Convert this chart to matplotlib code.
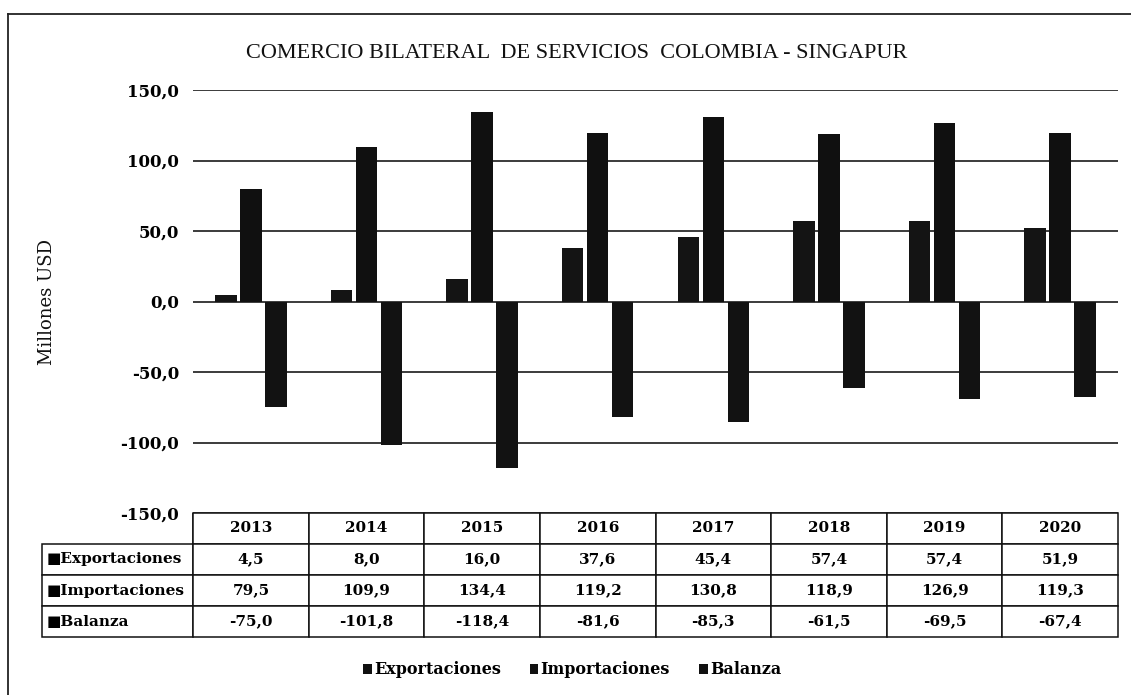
import numpy as np
import matplotlib
matplotlib.use("Agg")
import matplotlib.pyplot as plt
from matplotlib.patches import Patch
from matplotlib.lines import Line2D

# data (millones USD)
years = ['2013', '2014', '2015', '2016', '2017', '2018', '2019', '2020']
exportaciones = [4.5, 8.0, 16.0, 37.6, 45.4, 57.4, 57.4, 51.9]
importaciones = [79.5, 109.9, 134.4, 119.2, 130.8, 118.9, 126.9, 119.3]
balanza = [-75.0, -101.8, -118.4, -81.6, -85.3, -61.5, -69.5, -67.4]
series_names = ['Exportaciones', 'Importaciones', 'Balanza']
y_ticks = [-150, -100, -50, 0, 50, 100, 150]

serif = ['Liberation Serif', 'DejaVu Serif']
wide = ['DejaVu Serif', 'DejaVu Sans']
plt.rcParams['font.family'] = serif

W, H = 1131, 695
fig = plt.figure(figsize=(W / 100, H / 100), dpi=100)
fig.patch.set_facecolor('white')

# axes placement in pixels
left, right, top, bottom = 193, 1118, 90, 513
ax = fig.add_axes([left / W, 1 - bottom / H, (right - left) / W, (bottom - top) / H])

x = np.arange(len(years))
bw = 0.186
step = 0.216
colors = ['#141414', '#101010', '#121212']
ax.bar(x - step, exportaciones, bw, color=colors[0], zorder=3)
ax.bar(x, importaciones, bw, color=colors[1], zorder=3)
ax.bar(x + step, balanza, bw, color=colors[2], zorder=3)

ax.set_xlim(-0.5, len(years) - 0.5)
ax.set_ylim(-150, 150)
ax.set_yticks(y_ticks)
ax.set_yticklabels([f"{v:.1f}".replace('.', ',') for v in y_ticks],
                   fontsize=12, fontweight='bold', family=wide)
ax.tick_params(axis='y', length=0, pad=10)
ax.set_xticks([])
for s in ax.spines.values():
    s.set_visible(False)
ax.grid(axis='y', color='#1a1a1a', linewidth=1.2, linestyle='-', zorder=0)

# data table under the plot
def fmt(v):
    return f"{v:.1f}".replace('.', ',')

series_vals = [exportaciones, importaciones, balanza]
cell_text = [['\u25a0' + n] + [fmt(v) for v in vals]
             for n, vals in zip(series_names, series_vals)]

lab_w = (left - 42) / (right - left)
tbl_h = (637 - bottom) / (bottom - top)
col_w = [lab_w] + [1 / len(years)] * len(years)
tbl = ax.table(cellText=cell_text, colLabels=[''] + years,
               cellLoc='center', colLoc='center', colWidths=col_w,
               bbox=[-lab_w, -tbl_h, 1 + lab_w, tbl_h])
tbl.auto_set_font_size(False)
tbl.set_fontsize(11)
for (r, c), cell in tbl.get_celld().items():
    cell.set_edgecolor('#111111')
    cell.set_linewidth(1.1)
    cell.get_text().set_fontweight('bold')
    cell.get_text().set_fontfamily(wide)
    if c == 0:
        cell.get_text().set_horizontalalignment('left')
        cell.PAD = 0.03
        if r == 0:
            cell.visible_edges = 'R'

# legend
handles = [Patch(facecolor='#111111', edgecolor='none') for _ in series_names]
fig.legend(handles, series_names, loc='center', bbox_to_anchor=(572 / W, 1 - 670 / H),
           ncol=3, frameon=False, handlelength=0.55, handleheight=0.55,
           handletextpad=0.15, columnspacing=1.8,
           prop={'family': wide, 'weight': 'bold', 'size': 11.5})

fig.text(577 / W, 1 - 53 / H, 'COMERCIO BILATERAL  DE SERVICIOS  COLOMBIA - SINGAPUR',
         ha='center', va='center', fontsize=16, color='#111111')
fig.text(47 / W, 1 - 302 / H, 'Millones USD', rotation=90, ha='center', va='center',
         fontsize=13, family=wide, color='#111111')

# scanned frame: left and top edges
fig.add_artist(Line2D([8 / W, 8 / W], [0, 1 - 14 / H], color='#222222', lw=1.3))
fig.add_artist(Line2D([8 / W, 1], [1 - 14 / H, 1 - 14 / H], color='#222222', lw=1.3))

fig.savefig('out.png', dpi=100)
